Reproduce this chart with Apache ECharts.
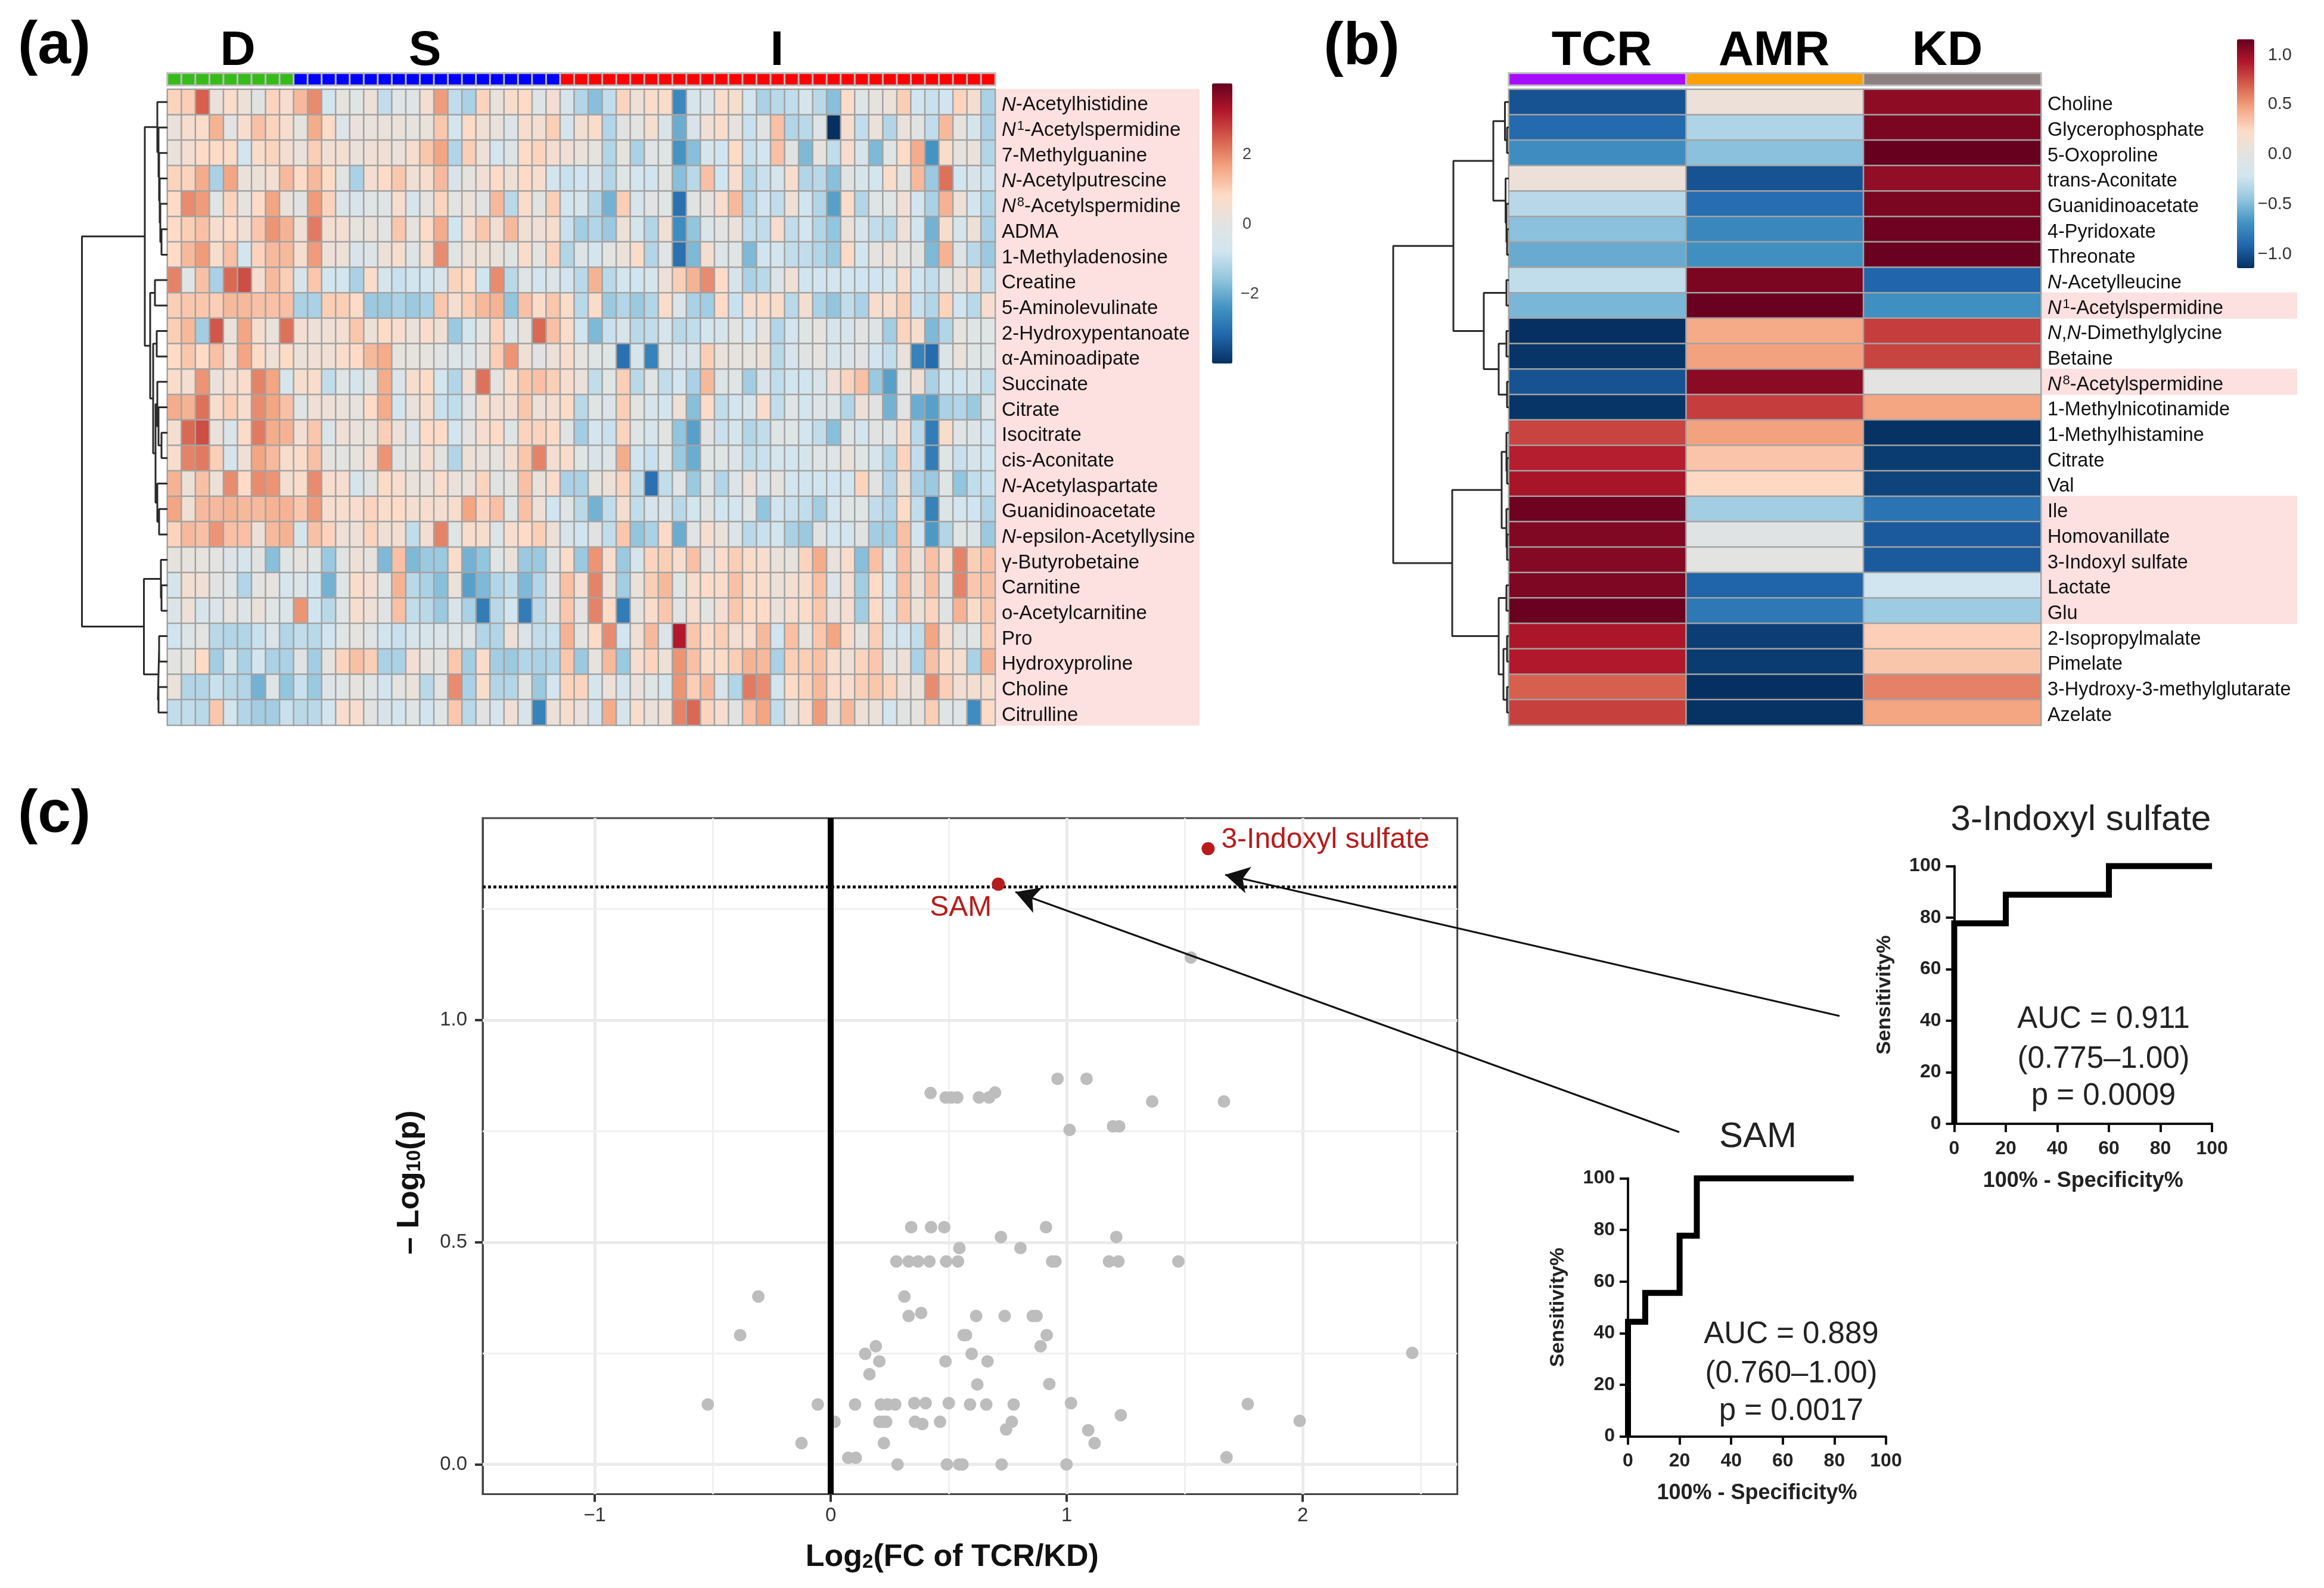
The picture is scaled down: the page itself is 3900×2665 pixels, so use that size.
<!DOCTYPE html>
<html><head><meta charset="utf-8">
<script src="https://cdn.jsdelivr.net/npm/echarts@6/dist/echarts.min.js"></script>
<style>html,body{margin:0;padding:0;background:#fff}#c{width:3900px;height:2665px}</style>
</head><body><div id="c"></div>
<script>
// ---------- panel (a) ----------
const metabolitesA=["N-Acetylhistidine","N1-Acetylspermidine","7-Methylguanine","N-Acetylputrescine","N8-Acetylspermidine","ADMA","1-Methyladenosine","Creatine","5-Aminolevulinate","2-Hydroxypentanoate","α-Aminoadipate","Succinate","Citrate","Isocitrate","cis-Aconitate","N-Acetylaspartate","Guanidinoacetate","N-epsilon-Acetyllysine","γ-Butyrobetaine","Carnitine","o-Acetylcarnitine","Pro","Hydroxyproline","Choline","Citrulline"];
const groupCounts=[["D",9],["S",19],["I",31]];
const a00=[0.9,1.0,2.4,0.2,0.7,0.3,-0.1,0.9,0.6,1.3,1.9,-0.7,0.1,-0.2,0.3,-1.0,-0.2,-0.2,0.5,1.7,-1.0,-1.3,0.9,0.2,0.7,0.8,-0.3,0.5,-0.5,-1.2,-1.7,-1.0,0.9,0.3,0.7,0.7,-2.6,-0.6,-0.4,0.7,0.6,-0.7,-1.3,-1.1,-1.0,-0.6,-1.1,-1.7,0.8,-0.2,0.1,0.3,1.0,-0.8,-0.9,-0.8,0.9,0.5,-1.3];
const a01=[0.2,0.6,0.7,1.4,0.0,0.6,1.2,0.9,0.6,0.1,1.5,0.8,-0.4,0.2,0.2,0.2,0.2,0.1,0.2,1.1,-0.7,0.8,0.4,0.2,-0.4,0.6,0.5,1.0,-0.6,0.5,0.7,-1.2,-0.1,0.0,0.5,-0.5,-2.0,-0.5,0.4,0.7,0.1,-0.9,-0.1,1.2,-1.2,-1.1,-0.3,-4,0.6,-1.0,0.2,-1.2,0.2,-0.1,-1.0,1.3,0.1,-0.6,-1.3];
const a02=[0.2,0.5,0.8,0.8,0.8,-0.7,0.7,0.9,0.5,0.2,1.0,0.4,0.5,0.2,0.4,0.4,0.2,0.6,1.1,1.6,-1.2,1.0,0.3,-0.7,-0.3,0.8,0.9,0.5,0.4,0.2,0.1,-1.2,0.1,-1.3,-0.2,-0.2,-2.4,-1.7,-0.6,-0.8,0.8,-0.9,-0.7,1.2,-0.1,-1.8,0.1,-1.0,0.6,-0.6,-1.8,-0.2,0.8,1.5,-2.4,0.7,0.1,0.2,-1.2];
const a03=[0.9,0.9,1.5,-1.3,1.6,0.2,0.3,0.5,1.3,0.8,1.3,0.8,-0.1,-1.3,0.5,0.8,1.1,0.4,0.6,1.3,-0.5,0.1,0.4,0.8,0.3,0.8,0.6,-0.7,-0.9,-0.8,-0.5,-1.2,-0.2,-0.7,-0.8,-0.1,-1.7,-1.1,1.2,-0.8,0.6,-1.2,-0.9,-0.6,0.6,-1.2,-1.1,-1.7,-0.1,-0.6,-0.7,0.7,0.0,1.3,-1.5,2.2,-0.7,-0.5,-0.9];
const a04=[0.8,1.9,1.7,-0.2,0.9,0.1,0.8,1.6,0.2,-0.1,1.7,0.9,-0.3,-0.5,-0.2,-0.2,0.6,-0.6,0.1,0.9,0,0.3,-0.1,1.3,-1.1,0.7,-0.1,1.0,-0.7,-0.6,-1.2,-1.9,1.0,-0.6,-0.1,-0.2,-3.0,-0.1,0.1,0.6,1.3,-1.2,-0.8,-1.0,0.3,-0.8,-1.2,-2.2,0.7,-1.2,-0.2,-0.2,0.4,-0.7,-1.3,1.4,0.3,-0.7,-1.2];
const a05=[0.8,1.0,1.2,0.6,0.8,0.4,1.1,1.8,1.4,0.4,2.1,0.5,0.5,0.1,0.2,0,1.1,0.1,0.8,1.5,-0.8,0.6,1.1,0.5,1.3,0.4,0.4,0.6,-0.9,-1.4,-1.2,-1.5,0.3,-0.6,-1.2,0.4,-2.5,-1.6,-0.4,0,0.2,-1.0,-1.0,0.6,-1.0,-0.7,-1.2,-1.6,0.2,-0.6,-1.0,-1.1,0.3,-0.7,-1.9,0.6,-0.6,0.3,-1.3];
const a06=[0.8,1.3,1.7,0.6,1.2,-0.7,0.9,1.3,1.3,0.6,1.7,0.3,0.3,-0.5,-0.3,0.3,0.6,-0.3,0.5,1.9,-0.1,0.3,0.3,0.2,-0.1,0.7,0.0,0.9,-1.2,-0.3,-0.7,0.0,0.2,0.7,-1.2,-0.2,-3,-1.8,0.5,-0.3,-0.2,-1.8,-0.8,-0.7,-1.0,-1.0,-1.2,-1.5,0.8,-0.7,0.1,0.3,0.0,-0.1,-1.8,1.4,-0.3,-1.1,-1.5];
const a07=[2.0,-0.2,1.2,-1.3,2.3,2.6,0.6,1.3,1.0,-0.5,1.1,-0.7,-0.7,-1.3,0.7,-0.6,-0.9,-0.8,-0.7,-0.5,0.9,0.8,-0.8,1.9,-1.1,-0.2,-0.7,-0.3,-0.8,-1.1,1.4,-1.1,-0.7,-0.8,-0.6,0.3,1.0,1.4,1.9,0.8,-0.5,-1.3,-1.1,-0.3,0.4,-0.8,-0.8,-0.7,-0.7,-0.8,-0.8,-0.7,0.6,-0.8,-1.0,-0.1,0.2,0.6,-1.0];
const a08=[1.0,1.1,1.1,1.0,1.3,1.3,1.2,1.2,1.2,-1.3,-1.3,1.0,1.0,0.8,-1.5,-1.5,-1.3,-1.5,-1.3,1.1,0.5,1.0,1.3,1.4,-1.6,1.2,0.8,1.1,0.7,-1.1,0.7,-1.5,-1.2,-1.5,-1.2,0.7,-0.3,-1.3,-1.4,0.8,-0.9,0.6,0.7,0.7,-1.1,0.5,-1.3,-1.6,-1.0,-1.3,0.6,0.6,1.0,-0.9,-1.2,0.9,-0.8,-1.1,0.6];
const a09=[1.0,1.3,-1.4,2.5,0.2,1.6,0.6,0.2,2.2,0.5,0.3,0.4,0.5,1.1,0.3,0.8,0.6,0.2,0.7,0.4,-1.5,-0.7,0.0,0.9,-0.3,0.1,2.3,1.2,0.7,-0.8,-1.8,-0.9,-0.5,-1.1,-1.0,-0.6,-1.1,-1.0,-0.7,-0.6,0,-0.7,0.1,-1.2,-0.7,-0.2,0.1,-0.6,-0.6,-0.1,-0.3,-1.4,0.9,0.6,-1.8,-1.2,0.1,-0.2,-0.2];
const a10=[0.8,1.1,0.8,1.2,0.5,1.6,0.8,0.4,0.8,0.2,0.4,0.4,0.7,0.8,1.3,1.5,0.1,0.1,0.1,-0.1,-0.3,-0.3,0.1,1.0,1.8,0.4,-0.1,0.3,0.6,0.1,-0.2,-0.2,-3.0,-0.6,-2.7,-0.2,-0.6,-0.5,1.0,0.2,0.1,0.1,0.3,-1.1,-0.6,-0.1,0.1,-0.6,-0.4,-0.1,-0.7,-1.0,0.2,-2.7,-3.1,-0.3,0.2,-0.2,-0.2];
const a11=[0.7,0.5,1.8,0.2,0.5,0.7,2,1.6,-0.6,0.6,0.7,-1.0,-0.2,-0.6,-0.1,1.5,-0.4,0.6,0.8,-0.7,-1.2,0.4,2.2,0.1,0.7,1.1,1.2,1.0,0.6,0.2,-1.0,-0.2,1.0,-1.1,-0.2,-1.0,-0.7,-1.3,1.3,-0.3,-0.2,-1.4,-0.5,-1.0,-0.8,-0.8,-0.5,0.4,0.9,1.2,-1.5,-2.2,-0.2,0.4,-1.3,-0.8,-0.8,-0.5,-1.0];
const a12=[1.5,1.4,2.2,0.6,1.0,0.6,1.9,1.6,1.2,-0.2,0.4,0.3,0.2,0.1,0.8,1.5,-0.7,0.2,0.6,-0.9,-1.0,-0.2,0.6,0.5,0.5,1.1,0.3,0.5,0.8,-1.1,-0.2,-0.4,1.0,0.0,-0.6,-0.7,0.3,-1.7,0.7,-1.0,-0.7,-0.6,0.7,-1.0,-0.2,-0.7,-0.3,-0.4,-1.2,0.3,-0.1,-1.9,-0.1,-2.0,-2.2,-1.3,-1.2,-1.5,-0.3];
const a13=[0.5,2.3,2.6,0.2,-0.4,0.8,2.1,1.5,1.4,0.5,1.1,-0.4,0.4,0.2,0.2,1.0,0.3,-0.4,0.8,0.8,-0.7,0,0.6,0.8,-0.2,0.9,0.9,0.8,-0.1,-1.4,-0.7,-0.9,0.9,-0.2,-0.6,-0.1,-1.6,-2.2,-0.1,-0.9,-0.6,-1.2,-1.0,-0.2,-0.2,-0.7,-1.0,-1.7,-0.2,-0.7,-0.1,-0.3,0.6,-1.1,-2.8,0.7,-0.2,-0.3,-0.7];
const a14=[0.6,2.0,2.1,1.0,-0.6,0.4,1.6,1.3,0.7,0.7,1.2,0.1,0,0.1,0.5,1.8,-0.1,0.1,0.6,-0.1,-1.2,0.3,0.2,0.1,0.5,1.1,2.0,0.5,0.7,-0.2,-0.5,-0.3,1.5,-0.8,-0.9,-0.2,-1.5,-2.0,-0.2,-0.2,-0.3,-1.0,-0.9,-0.6,-0.7,-0.6,-0.2,-0.2,0.2,-0.2,-0.6,-1.2,0.9,-1.0,-2.8,-0.2,-0.9,-0.6,-0.8];
const a15=[1.4,0.3,1.2,0.3,1.9,0.8,1.9,1.8,0.5,0.7,1.9,0.6,0.6,-0.6,-0.1,0.8,0.6,0.2,0.2,0.7,0.2,0.2,0.9,-0.1,0.1,1.2,0.2,0.7,-1.3,-1.3,0.1,0.3,0.9,-1.0,-3.0,-1.0,-0.2,-1.5,-0.3,-1.2,-0.3,0.2,-0.6,0.1,-0.7,-0.8,-0.8,-0.8,-0.7,0.9,-0.1,-1.2,0.4,-1.3,-1.5,-0.2,-1.6,-1.0,-0.9];
const a16=[1.6,0.4,1.3,1.3,1.4,1.3,1.3,1.4,1.4,1.1,1.7,0.6,0.6,0.6,0.9,0.7,0.8,0.5,0.6,0.5,0.6,1.6,0.9,1.2,-0.2,1.2,0.3,-0.8,-0.2,-1.1,-1.9,-1.0,0.5,-1.0,-0.6,-0.4,-1.1,-0.7,-0.1,-0.8,-0.7,-0.2,-1.6,-0.8,-0.9,-1.0,-1.4,-0.7,-0.2,-0.2,-1.0,-1.2,0.8,-1.0,-2.7,-0.3,-0.7,-0.8,-1.2];
const a17=[0.9,1.3,1.2,1.8,1.2,1.2,0.3,1.3,1.4,-0.6,1.2,0.9,0.3,0.3,0.9,0.4,0.5,-1.0,0.5,2.0,-0.2,0.7,0.6,-0.3,0.6,0.8,1.0,0.3,-0.5,-0.8,-0.1,-1.0,1.1,-1.6,-1.3,0.8,-2.0,-0.2,0.6,0.2,-0.3,-1.1,-0.9,-0.7,-1.3,-1.5,-0.1,-0.7,-0.7,-0.1,-1.4,-1.4,1.2,-0.7,-2.3,-1.2,-0.2,-0.3,-1.5];
const a18=[0.1,0.1,0.1,0,-0.3,-0.6,-0.1,-1.7,-0.2,0.1,-0.2,-1.5,-0.1,0.3,0.1,-1.8,1.2,-1.8,-1.5,-1.5,0.7,-1.9,-1.6,-0.2,0.2,-1.5,-1.5,-0.1,0.7,-1.5,1.8,0.6,-1.5,-0.6,0.9,1.0,0.6,1.2,0.1,0.7,1.0,0.7,0.6,0.2,0.1,0.9,1.5,0.2,0.6,-1.7,1.2,-0.6,1.2,0.2,1.2,0.6,2.0,1.0,1.2];
const a19=[-0.6,0.5,0.4,-0.1,-0.2,-1.2,0.0,0.1,-0.6,-0.3,-0.8,-1.9,-0.2,0.7,0.5,-0.2,1.4,-1.1,-1.3,-1.7,0.2,-2.2,-1.8,-1.2,-1.0,-1.8,-1.2,0.0,1.2,0.5,2.0,0.4,-1.4,0.2,1.0,1.3,-0.2,0.6,0.8,0.7,1.2,0.7,0.7,0.3,0.5,0.6,1.2,-0.3,0.5,-1.4,0.8,-0.7,1.2,0.2,1.2,-0.2,2.0,1.1,1.2];
const a20=[-0.3,0.3,-0.6,-0.4,0.1,-0.3,0.2,-0.2,-0.4,1.8,-0.8,-1.1,-0.2,0.6,0.3,-0.1,1.2,-1.0,-1.1,-1.5,-0.5,-1.3,-2.8,-1.1,-0.7,-2.8,-1.1,-0.1,1.1,0.0,2.0,0.8,-2.8,0.1,0.7,1.1,-0.1,0.6,0,0.5,1.1,0.8,0.8,0.2,0.6,0.7,1.1,0.2,0.5,-1.4,0.8,-0.6,1.1,0.3,0.9,-0.1,1.4,0.7,1.1];
const a21=[-0.8,-0.3,0,-1.1,-1.2,-1.2,-0.9,-0.4,-1.2,-1.0,-1.1,-0.8,-0.2,0.1,-0.2,-0.8,-0.9,-0.6,-0.6,-0.4,-0.3,-0.2,-1.2,-1.2,0.3,-0.4,-1.0,-0.9,1.4,0.0,0.8,1.9,-0.7,0.4,1.3,-0.4,3.2,1.1,0.8,1.0,0.5,0.7,1.3,-0.8,1.2,0.1,1.1,1.6,0.7,0.0,1.0,-0.6,-0.7,-1.0,1.6,0.5,-0.1,-0.2,1.0];
const a22=[0.0,0.1,0.8,-1.4,-0.6,-1.3,-0.7,-1.3,-1.3,-0.1,-1.4,0.1,0.9,1.2,1.0,-1.3,-1.3,0.5,0.1,0.0,1.1,-1.4,0.7,-1.4,-1.5,-1.2,-1.3,-1.2,1.1,-1.5,0.1,1.3,-1.5,0.6,0.9,0.3,1.8,1.2,0.7,0.8,1.0,1.4,1.3,-1.3,1.0,1.0,1.2,0.6,0.4,0.9,1.1,0.0,0.3,-1.3,1.2,0.7,0.5,-1.3,1.4];
const a23=[0.2,-1.2,-1.2,-0.9,-1.1,-1.2,-1.9,-0.3,-1.6,-0.9,-1.5,-0.3,-0.2,0.1,-0.2,-0.7,0.0,0.2,-1.1,-0.1,1.9,-1.3,0.7,-1.2,-1.2,-0.1,-1.5,-0.7,0.9,0.9,-0.6,0.3,-0.6,0.2,-0.2,-0.6,1.8,1.0,1.3,-0.5,-1.2,2.1,1.9,-0.7,0.8,0.9,1.3,0.7,0.6,1.0,1.1,0.9,0.3,0.2,1.9,1.0,0.5,0.5,0.6];
const a24=[-1.0,-1.0,-1.1,1.1,-0.7,-1.2,-1.4,-1.4,-0.9,-1.1,-1.1,-0.7,0.6,0.6,-0.1,-0.5,-0.7,-0.2,-0.8,-0.2,1.1,-1.1,-0.1,-0.6,0.4,-0.5,-2.7,0.3,0.6,0.2,-0.6,1.5,-0.6,0.6,0.2,0.4,2.0,2.3,0.9,0.6,-0.1,1.2,1.6,-1.0,0.2,0.6,1.7,0.4,1.3,0.3,0.2,-0.7,-0.1,0.1,1.0,-0.2,-0.2,-2.5,0.8];
const rowsA=[a00,a01,a02,a03,a04,a05,a06,a07,a08,a09,a10,a11,a12,a13,a14,a15,a16,a17,a18,a19,a20,a21,a22,a23,a24];
// dendrogram A: [height, child, child]; leaves are row indexes
const dendroA=[143.5,
 [38,
  [17,0,[15,1,[14,2,[13,3,[12,4,[10,5,6]]]]]],
  [29,[21,7,8],[24,[18,9,10],[20,[17,11,[15,12,[10,13,14]]],[17,15,[14,16,17]]]]]],
 [39.5,[11,18,[10,19,20]],[16,[14,21,22],[15,23,24]]]];

// ---------- panel (b) ----------
const metabolitesB=["Choline","Glycerophosphate","5-Oxoproline","trans-Aconitate","Guanidinoacetate","4-Pyridoxate","Threonate","N-Acetylleucine","N1-Acetylspermidine","N,N-Dimethylglycine","Betaine","N8-Acetylspermidine","1-Methylnicotinamide","1-Methylhistamine","Citrate","Val","Ile","Homovanillate","3-Indoxyl sulfate","Lactate","Glu","2-Isopropylmalate","Pimelate","3-Hydroxy-3-methylglutarate","Azelate"];
const dietsB=["TCR","AMR","KD"];
const tcrB=[-1.0,-0.9,-0.72,0.08,-0.32,-0.48,-0.58,-0.29,-0.53,-1.15,-1.13,-1.0,-1.13,0.78,0.9,0.95,1.13,1.07,1.06,1.08,1.14,0.94,0.92,0.69,0.79];
const amrB=[0.08,-0.35,-0.48,-1.0,-0.88,-0.75,-0.71,1.09,1.14,0.44,0.47,1.04,0.8,0.47,0.33,0.24,-0.4,-0.04,0,-0.93,-0.83,-1.09,-1.1,-1.15,-1.14];
const kdB=[1.03,1.09,1.15,1.02,1.09,1.13,1.14,-0.92,-0.71,0.8,0.78,0,0.46,-1.14,-1.1,-1.07,-0.85,-0.97,-0.97,-0.23,-0.42,0.28,0.32,0.58,0.46];
const highlightedB=["N1-Acetylspermidine","N8-Acetylspermidine","Ile","Homovanillate","3-Indoxyl sulfate","Lactate","Glu"];
const dendroB=[194,
 [93,
  [26,[6.5,0,[3,1,2]],[5.4,3,[4,4,[3,5,6]]]],
  [42,[4,7,8],[17,[4,9,10],[3,11,12]]]],
 [95,
  [12,[4,13,[3,14,15]],[4,16,[3,17,18]]],
  [17,[4,19,20],[9,[3,21,22],[3,23,24]]]]];

// ---------- panel (c) ----------
const grayPoints=[[.341,.534],[.425,.534],[.481,.534],[.912,.534],[.721,.512],[1.21,.512],[.545,.487],[.804,.487],[.278,.457],[.33,.457],[.37,.457],[.418,.457],[.489,.457],[.539,.457],[.938,.457],[.952,.457],[1.179,.457],[1.219,.457],[1.473,.457],[-.307,.378],[.312,.378],[.33,.334],[.383,.341],[.616,.334],[.737,.334],[.856,.334],[.872,.334],[-.384,.291],[.563,.291],[.573,.291],[.915,.291],[.191,.266],[.889,.266],[.146,.249],[.597,.249],[.206,.232],[.486,.232],[.664,.232],[.164,.203],[.621,.18],[.926,.181],[-.521,.135],[-.055,.135],[.103,.135],[.212,.135],[.241,.135],[.273,.135],[.354,.138],[.402,.138],[.5,.138],[.59,.135],[.659,.135],[.775,.135],[1.018,.138],[1.229,.111],[.016,.096],[.206,.096],[.222,.096],[.235,.096],[.357,.096],[.388,.091],[.463,.096],[.767,.096],[.743,.079],[1.091,.077],[1.118,.048],[-.124,.048],[.225,.048],[.074,.015],[.106,.015],[.283,0],[.492,0],[.544,0],[.558,0],[.724,0],[.999,0],[1.526,1.141],[.961,.868],[1.084,.868],[.423,.836],[.487,.826],[.51,.826],[.536,.826],[.628,.826],[.671,.826],[.696,.837],[1.362,.817],[1.666,.817],[1.012,.753],[1.196,.761],[1.222,.761],[2.464,.251],[1.767,.136],[1.987,.098],[1.677,.016]];
const redPoints=[{name:"3-Indoxyl sulfate",value:[1.599,1.386]},{name:"SAM",value:[.71,1.306]}];
const xMajor=[-1,0,1,2],xMinor=[-.5,.5,1.5,2.5],yMajor=[0,.5,1],yMinor=[.25,.75,1.25];
const pThreshold=1.301;
const rocIndoxyl=[[0,0],[0,77.8],[20,77.8],[20,88.9],[60,88.9],[60,100],[100,100]];
const rocSAM=[[0,0],[0,44.4],[6.67,44.4],[6.67,55.6],[20,55.6],[20,77.8],[26.67,77.8],[26.67,100],[87.5,100]];
const statsIndoxyl=["AUC = 0.911","(0.775–1.00)","p = 0.0009"];
const statsSAM=["AUC = 0.889","(0.760–1.00)","p = 0.0017"];

// ---------- drawing ----------
const FF='"Liberation Sans"';
const RAMP=['#053061','#2166AC','#4393C3','#92C5DE','#D1E5F0','#E3E3E1','#FDDBC7','#F4A582','#D6604D','#B2182B','#67001F'];
const PINK='#FDE0E0';
const chart=echarts.init(document.getElementById('c'),null,{renderer:'canvas',width:3900,height:2665});
const grid=[],xAxis=[],yAxis=[],series=[],graphic=[];
function addGrid(left,top,width,height,x,y){
  grid.push({left,top,width,height,outerBoundsMode:'none',containLabel:false});
  const i=grid.length-1;
  xAxis.push(Object.assign({gridIndex:i,show:false},x));
  yAxis.push(Object.assign({gridIndex:i,show:false},y));
  return i;
}
function richName(s){
  if(/^N\d-/.test(s))return '{i|N}{s|'+s[1]+'}{n|'+s.slice(2)+'}';
  if(s.startsWith('N,N-'))return '{i|N}{n|,}{i|N}{n|'+s.slice(3)+'}';
  if(s.startsWith('N-'))return '{i|N}{n|'+s.slice(1)+'}';
  return '{n|'+s+'}';
}
const richFor=f=>({n:{fontSize:f,fontFamily:FF,color:'#111'},i:{fontSize:f,fontFamily:FF,fontStyle:'italic',color:'#111'},s:{fontSize:22,fontFamily:FF,color:'#111',padding:[0,0,14,2]}});
function heatCells(rows){const out=[];rows.forEach((r,y)=>r.forEach((v,x)=>out.push([x,y,v])));return out;}
function heatSeries(i,data){return {type:'heatmap',xAxisIndex:i,yAxisIndex:i,data,progressive:0,silent:true,animation:false,emphasis:{disabled:true},itemStyle:{borderColor:'#A3A3A3',borderWidth:2.5}};}
function range(n){return Array.from({length:n},(_,k)=>k);}
function dendroSegs(node,out){
  if(typeof node==='number')return {y:node+.5,h:0};
  const a=dendroSegs(node[1],out),b=dendroSegs(node[2],out),h=node[0];
  out.push([a.h,a.y],[h,a.y],[h,b.y],[b.h,b.y],['-','-']);
  return {y:(a.y+b.y)/2,h};
}
function addDendro(tree,right,top,height,rows){
  const H=tree[0],pts=[];dendroSegs(tree,pts);
  const i=addGrid(right-H,top,H,height,{type:'value',min:0,max:H,inverse:true},{type:'value',min:0,max:rows,inverse:true});
  series.push({type:'line',xAxisIndex:i,yAxisIndex:i,data:pts,symbol:'none',clip:false,silent:true,animation:false,connectNulls:false,lineStyle:{color:'#2a2a2a',width:3}});
}
function annotBar(left,top,width,height,colors){
  const i=addGrid(left,top,width,height,{type:'category',data:range(colors.length)},{type:'category',data:[0]});
  const s=heatSeries(i,colors.map((c,k)=>({value:[k,0,1],itemStyle:{color:c}})));
  s.itemStyle={borderColor:'#BDBDBD',borderWidth:3};
  series.push(s);
}
function text(t,x,y,font,extra){graphic.push({type:'text',silent:true,z:20,x,y,rotation:(extra&&extra.rotation)||0,style:{text:t,font:font,fill:(extra&&extra.fill)||'#000',align:(extra&&extra.align)||'center',verticalAlign:'middle'}});}
const minusFmt=v=>String(v).replace('-','−');

// (a) heat
const gA=addGrid(281,150,1389,1067,{type:'category',data:range(59)},{type:'category',data:metabolitesA,inverse:true,show:true,position:'right',axisLine:{show:false},axisTick:{show:false},
  axisLabel:{show:true,interval:0,margin:2,width:332,height:34,lineHeight:34,backgroundColor:PINK,padding:[10,0,0,9],align:'left',formatter:richName,rich:richFor(33)}});
series.push(heatSeries(gA,heatCells(rowsA)));
const colA={D:'#36BC18',S:'#0000FF',I:'#FF0000'};
const groupColors=groupCounts.flatMap(([g,n])=>Array(n).fill(colA[g]));
annotBar(281,123,1389,20,groupColors);
addDendro(dendroA,281,150,1067,25);
// (b) heat
const gB=addGrid(2532,150,893,1067,{type:'category',data:dietsB},{type:'category',inverse:true,show:true,position:'right',axisLine:{show:false},axisTick:{show:false},
  data:metabolitesB.map(m=>highlightedB.includes(m)?{value:m,textStyle:{backgroundColor:PINK}}:m),
  axisLabel:{show:true,interval:0,margin:2,width:419,height:34,lineHeight:34,padding:[10,0,0,9],align:'left',formatter:richName,rich:richFor(32.4)}});
series.push(heatSeries(gB,[tcrB,amrB,kdB].flatMap((col,x)=>col.map((v,y)=>[x,y,v]))));
const iHeatB=series.length-1;
annotBar(2532,123,893,20,['#A80CFF','#FFA000','#8C8080']);
addDendro(dendroB,2532,150,1067,25);

// (c) volcano
const nameRich={b:{fontSize:52,fontWeight:'bold',fontFamily:FF,color:'#111'},s:{fontSize:33,fontWeight:'bold',fontFamily:FF,color:'#111',padding:[16,0,0,0]}};
const gV=addGrid(810,1373,1635.6,1134.6,
 {show:true,type:'value',min:-1.475,max:2.655,scale:false,splitLine:{show:false},
  axisLine:{onZero:false,lineStyle:{color:'#444',width:3}},
  axisTick:{show:true,customValues:xMajor,length:13,lineStyle:{color:'#333',width:4}},
  axisLabel:{customValues:xMajor,fontSize:33,fontFamily:FF,color:'#333',margin:20,formatter:minusFmt},
  name:'{b|Log}{s|2}{b|(FC of TCR/KD)}',nameLocation:'middle',nameGap:80,
  nameTextStyle:{padding:[0,60,0,0],rich:nameRich}},
 {show:true,type:'value',min:-.067,max:1.4547,splitLine:{show:false},
  axisLine:{onZero:false,lineStyle:{color:'#444',width:3}},
  axisTick:{show:true,customValues:yMajor,length:13,lineStyle:{color:'#333',width:4}},
  axisLabel:{customValues:yMajor,fontSize:33,fontFamily:FF,color:'#333',margin:26,formatter:v=>v.toFixed(1)},
  name:'{b|– Log}{s|10}{b|(p)}',nameLocation:'middle',nameGap:96,
  nameTextStyle:{padding:[0,88,0,0],rich:nameRich}});
grid[gV].show=true;grid[gV].borderColor='#444';grid[gV].borderWidth=3;grid[gV].backgroundColor='transparent';
const mkLineCommon={silent:true,symbol:'none',animation:false,label:{show:false},emphasis:{disabled:true}};
const gl=(vals,key,w,c)=>vals.map(v=>({[key]:v,lineStyle:{width:w,color:c,type:'solid'}}));
series.push({type:'scatter',xAxisIndex:gV,yAxisIndex:gV,data:[],z:1,silent:true,markLine:Object.assign({},mkLineCommon,{z:1,data:[...gl(xMajor,'xAxis',5,'#EBEBEB'),...gl(xMinor,'xAxis',3,'#F0F0F0'),...gl(yMajor,'yAxis',5,'#EBEBEB'),...gl(yMinor,'yAxis',3,'#F0F0F0')]})});
series.push({type:'scatter',xAxisIndex:gV,yAxisIndex:gV,data:grayPoints,z:2,silent:true,animation:false,symbolSize:21,itemStyle:{color:'#BDBDBD',opacity:1}});
series.push({type:'scatter',xAxisIndex:gV,yAxisIndex:gV,data:[],z:3,silent:true,markLine:Object.assign({},mkLineCommon,{z:3,data:[{xAxis:0,lineStyle:{width:10,color:'#000',type:'solid'}},{yAxis:pThreshold,lineStyle:{width:5,color:'#111',type:[5,4]}}]})});
series.push({type:'scatter',xAxisIndex:gV,yAxisIndex:gV,z:4,silent:true,animation:false,symbolSize:22,itemStyle:{color:'#B71C1C',opacity:1},
  data:[{name:redPoints[0].name,value:redPoints[0].value,label:{show:true,position:'right',offset:[6,-14],formatter:'{b}',fontSize:48,fontFamily:FF,color:'#B71C1C'}},
        {name:redPoints[1].name,value:redPoints[1].value,label:{show:true,position:'bottom',offset:[-63,0],formatter:'{b}',fontSize:48,fontFamily:FF,color:'#B71C1C'}}],
  markLine:{silent:true,animation:false,z:5,symbol:['none','arrow'],symbolSize:[34,40],label:{show:false},lineStyle:{color:'#111',width:3,type:'solid'},
    data:[[{x:3087,y:1705},{x:2056,y:1468}],[{x:2818,y:1900},{x:1704,y:1497}]]}});

// ROC
function roc(left,top,size,data,title,stats,statsX,statsY,titleX,titleY){
  const g=addGrid(left,top,size,size,
   {show:true,type:'value',min:0,max:100,interval:20,splitLine:{show:false},axisLine:{onZero:false,lineStyle:{color:'#111',width:4}},axisTick:{show:true,length:14,lineStyle:{color:'#111',width:4}},
    axisLabel:{fontSize:32,fontWeight:'bold',fontFamily:FF,color:'#222',margin:26},name:'100% - Specificity%',nameLocation:'middle',nameGap:78,nameTextStyle:{fontSize:36,fontWeight:'bold',fontFamily:FF,color:'#222'}},
   {show:true,type:'value',min:0,max:100,interval:20,splitLine:{show:false},axisLine:{onZero:false,lineStyle:{color:'#111',width:4}},axisTick:{show:true,length:14,lineStyle:{color:'#111',width:4}},
    axisLabel:{fontSize:32,fontWeight:'bold',fontFamily:FF,color:'#222',margin:22},name:'Sensitivity%',nameLocation:'middle',nameGap:100,nameTextStyle:{fontSize:34,fontWeight:'bold',fontFamily:FF,color:'#222'}});
  series.push({type:'line',xAxisIndex:g,yAxisIndex:g,data,symbol:'none',silent:true,animation:false,clip:false,lineStyle:{color:'#000',width:10,cap:'butt',join:'miter'},z:4});
  text(title,titleX,titleY,'60px '+FF,{fill:'#222'});
  stats.forEach((t,i)=>text(t,statsX,statsY[i],'51px '+FF,{fill:'#222'}));
}
roc(3279.5,1453.4,432.6,rocIndoxyl,'3-Indoxyl sulfate',statsIndoxyl,3530,[1711,1778,1840],3492,1376);
roc(2732,1977.5,433,rocSAM,'SAM',statsSAM,3006,[2240,2306,2369],2950,1908);

// panel letters and group titles
text('(a)',91,78,'bold 100px '+FF);
text('(b)',2285,80,'bold 100px '+FF);
text('(c)',91,1368,'bold 100px '+FF);
const BIG='bold 82px '+FF;
[['D',399],['S',713],['I',1304]].forEach(([t,x])=>text(t,x,86,BIG));
[['TCR',2688],['AMR',2977],['KD',3268]].forEach(([t,x])=>text(t,x,86,BIG));
// legends' tick labels
[['2',2085,260],['0',2085,377],['−2',2082,494]].forEach(([t,x,y])=>text(t,x,y,'27px '+FF,{align:'left',fill:'#444'}));
[['1.0',93],['0.5',175],['0.0',259],['−0.5',343],['−1.0',427]].forEach(([t,y])=>text(t,3846,y,'29px '+FF,{align:'right',fill:'#333'}));

chart.setOption({
  animation:false,backgroundColor:'#fff',textStyle:{fontFamily:FF},
  grid,xAxis,yAxis,series,graphic,
  visualMap:[
   {type:'continuous',seriesIndex:gA,min:-4,max:4,left:2034,top:140,padding:0,itemWidth:34,itemHeight:470,calculable:false,text:null,inRange:{color:RAMP},hoverLink:false,realtime:false},
   {type:'continuous',seriesIndex:iHeatB,min:-1.15,max:1.15,left:3754,top:66,padding:0,itemWidth:29,itemHeight:384,calculable:false,text:null,inRange:{color:RAMP},hoverLink:false}
  ]
});
</script></body></html>
